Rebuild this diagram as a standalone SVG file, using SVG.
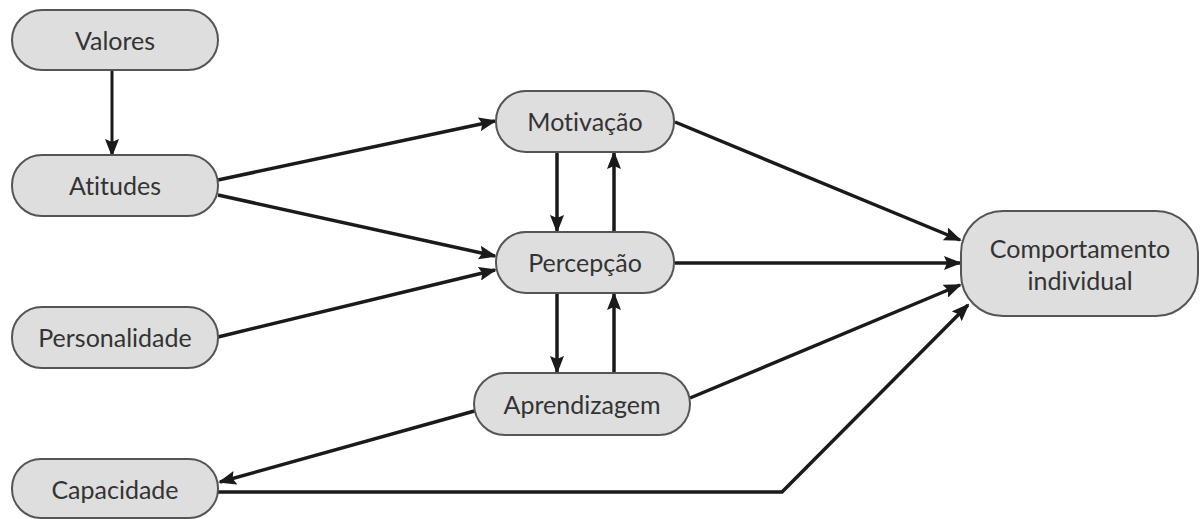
<svg xmlns="http://www.w3.org/2000/svg" width="1202" height="519" viewBox="0 0 1202 519">
<defs>
<marker id="ah" markerWidth="18" markerHeight="14" refX="16" refY="7" orient="auto" markerUnits="userSpaceOnUse" viewBox="0 0 18 14">
<path d="M0,0 L18,7 L0,14 L3,7 Z" fill="#1a1a1a"/>
</marker>
<style>
.n{fill:#dedede;stroke:#555;stroke-width:2}
.t{font-family:Lato,"Open Sans",sans-serif;font-size:25px;fill:#333;text-anchor:middle;dominant-baseline:central;font-variant-ligatures:none;font-feature-settings:"liga" 0}
.c{fill:none;stroke:#1a1a1a;stroke-width:3.5;marker-end:url(#ah)}
</style>
</defs>
<rect width="1202" height="519" fill="#fff"/>
<g id="connectors">
<path class="c" d="M112,70 L112,155" style="stroke-width:3"/>
<path class="c" d="M218,180 L495,121"/>
<path class="c" d="M218,195 L495,256"/>
<path class="c" d="M218,337 L495,270"/>
<path class="c" d="M557,152 L557,231"/>
<path class="c" d="M614,232 L614,153"/>
<path class="c" d="M557,293 L557,372"/>
<path class="c" d="M614,373 L614,294"/>
<path class="c" d="M675,122 L960,240"/>
<path class="c" d="M675,263 L960,263"/>
<path class="c" d="M690,398 L960,285"/>
<path class="c" d="M478,410 L220,482"/>
<path class="c" d="M218,492 L782,492 L968,305"/>
</g>
<g id="valores"><rect class="n" x="12" y="10" width="206" height="60" rx="30"/><text class="t" x="115" y="40">Valores</text></g>
<g id="atitudes"><rect class="n" x="12" y="155" width="206" height="61" rx="30"/><text class="t" x="115" y="185">Atitudes</text></g>
<g id="personalidade"><rect class="n" x="12" y="307" width="206" height="61" rx="30"/><text class="t" x="115" y="337">Personalidade</text></g>
<g id="capacidade"><rect class="n" x="12" y="459" width="206" height="59" rx="29"/><text class="t" x="115" y="489">Capacidade</text></g>
<g id="motivacao"><rect class="n" x="496" y="91" width="178" height="61" rx="30"/><text class="t" x="585" y="121">Motivação</text></g>
<g id="percepcao"><rect class="n" x="496" y="232" width="178" height="61" rx="30"/><text class="t" x="585" y="262">Percepção</text></g>
<g id="aprendizagem"><rect class="n" x="474" y="373" width="216" height="62" rx="31"/><text class="t" x="582" y="404">Aprendizagem</text></g>
<g id="comportamento"><rect class="n" x="961" y="211" width="237" height="105" rx="42"/><text class="t" x="1080" y="248">Comportamento</text><text class="t" x="1080" y="280">individual</text></g>
</svg>
